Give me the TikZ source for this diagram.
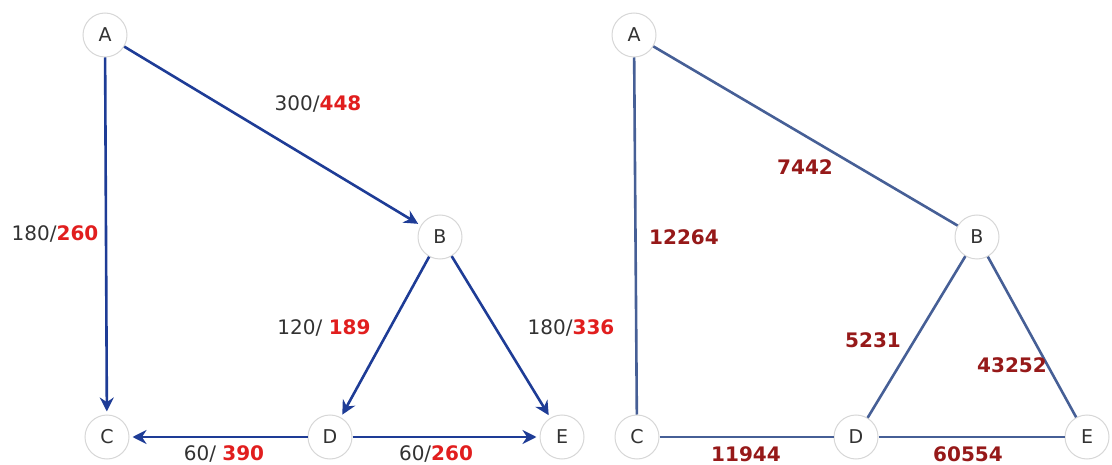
\documentclass[tikz,border=0pt]{standalone}
\usepackage{fontspec}
\setmainfont{DejaVu Sans}
\usetikzlibrary{arrows.meta}
\definecolor{edgeblue}{RGB}{30,60,150}
\definecolor{edgeslate}{RGB}{70,95,150}
\definecolor{numred}{RGB}{225,30,30}
\definecolor{numdark}{RGB}{150,25,25}
\definecolor{circgray}{RGB}{215,215,215}
\definecolor{txtgray}{RGB}{50,50,50}
\begin{document}
\begin{tikzpicture}[x=1pt,y=-1pt,
  vert/.style={circle,draw=circgray,line width=1pt,fill=white,minimum size=44pt,inner sep=0pt,font=\fontsize{19}{19}\selectfont,text=txtgray},
  arc/.style={draw=edgeblue,line width=2.6pt,-{Stealth[length=14pt,width=14pt]},shorten >=3pt},
  link/.style={draw=edgeslate,line width=2.6pt},
  lab/.style={font=\fontsize{20}{20}\selectfont,text=txtgray,inner sep=0pt},
  wt/.style={font=\fontsize{20}{20}\selectfont\bfseries,text=numdark,inner sep=0pt}]
\useasboundingbox (0,0) rectangle (1112,465);
% left graph
\node[vert] (A) at (105,35) {A};
\node[vert] (B) at (440,237) {B};
\node[vert] (C) at (107,437) {C};
\node[vert] (D) at (330,437) {D};
\node[vert] (E) at (562,437) {E};
\draw[arc] (A) -- (C);
\draw[arc] (A) -- (B);
\draw[arc] (B) -- (D);
\draw[arc] (B) -- (E);
\draw[arc] (D) -- (C);
\draw[arc] (D) -- (E);
\node[lab] (l1) at (55,234) {180/\textcolor{numred}{\bfseries 260}};
\node[lab] (l2) at (318,104) {300/\textcolor{numred}{\bfseries 448}};
\node[lab] (l3) at (324,328) {120/ \textcolor{numred}{\bfseries 189}};
\node[lab] (l4) at (571,328) {180/\textcolor{numred}{\bfseries 336}};
\node[lab] (l5) at (224,454) {60/ \textcolor{numred}{\bfseries 390}};
\node[lab] (l6) at (436,454) {60/\textcolor{numred}{\bfseries 260}};
% right graph
\node[vert] (A2) at (634,35) {A};
\node[vert] (B2) at (977,237) {B};
\node[vert] (C2) at (637,437) {C};
\node[vert] (D2) at (856,437) {D};
\node[vert] (E2) at (1087,437) {E};
\draw[link] (A2) -- (C2);
\draw[link] (A2) -- (B2);
\draw[link] (B2) -- (D2);
\draw[link] (B2) -- (E2);
\draw[link] (C2) -- (D2);
\draw[link] (D2) -- (E2);
\node[wt] (w1) at (805,167) {7442};
\node[wt] (w2) at (684,237) {12264};
\node[wt] (w3) at (873,340) {5231};
\node[wt] (w4) at (1012,365) {43252};
\node[wt] (w5) at (746,454) {11944};
\node[wt] (w6) at (968,454) {60554};
\end{tikzpicture}
\end{document}
